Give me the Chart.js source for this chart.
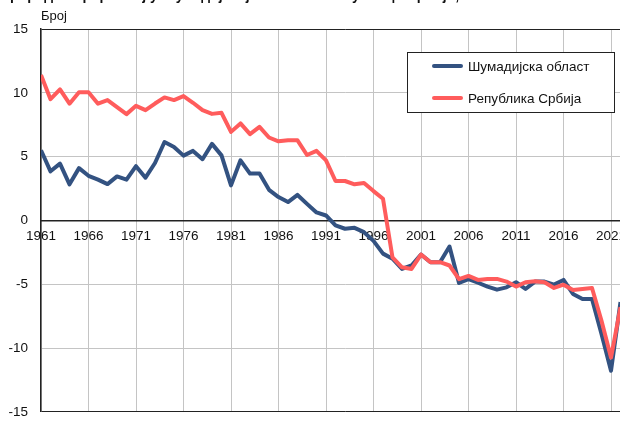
<!DOCTYPE html>
<html><head><meta charset="utf-8">
<script src="https://cdn.jsdelivr.net/npm/chart.js@4/dist/chart.umd.min.js"></script>
<style>
html,body{margin:0;padding:0;overflow:hidden;background:#fff;width:620px;height:428px}
#wrap{position:absolute;left:0;top:0;width:649px;height:433px}
</style></head><body>
<div id="wrap"><canvas id="c"></canvas></div>
<script>
const years = [];
for (let y = 1961; y <= 2022; y++) years.push(y);
const tickYears = [1961,1966,1971,1976,1981,1986,1991,1996,2001,2006,2011,2016,2021];
const yTicks = [-15,-10,-5,0,5,10,15];
const sumadija = [5.5,3.85,4.45,2.83,4.1,3.5,3.2,2.85,3.45,3.2,
 4.25,3.35,4.5,6.15,5.76,5.08,5.45,4.8,6.0,5.1,
 2.75,4.71,3.67,3.67,2.4,1.83,1.44,2.0,1.3,0.63,
 0.39,-0.39,-0.65,-0.58,-0.92,-1.6,-2.6,-3.0,-3.8,-3.53,
 -2.67,-3.27,-3.27,-2.04,-4.9,-4.6,-4.88,-5.18,-5.42,-5.24,
 -4.84,-5.37,-4.79,-4.79,-5.03,-4.66,-5.76,-6.15,-6.15,-8.9,
 -11.78,-6.4];
const srbija = [11.4,9.5,10.27,9.15,10.05,10.05,9.15,9.43,8.88,8.33,
 8.98,8.64,9.16,9.64,9.43,9.74,9.22,8.64,8.35,8.43,
 6.94,7.6,6.76,7.33,6.5,6.2,6.28,6.28,5.13,5.45,
 4.71,3.09,3.09,2.83,2.93,2.3,1.7,-2.9,-3.67,-3.8,
 -2.67,-3.27,-3.27,-3.53,-4.6,-4.35,-4.66,-4.58,-4.58,-4.79,
 -5.18,-4.84,-4.76,-4.84,-5.29,-5.03,-5.45,-5.37,-5.29,-7.86,
 -10.74,-6.8];
const seriesNames = ['Шумадијска област','Република Србија'];
const colors = ['#335281','#ff5c5c'];
const titleText = 'Природни прираштај у Шумадијској области и Републици Србији, 1961–2022.';
const unitText = 'Број';

const FONT = '"Liberation Sans", Arial, sans-serif';

const extras = {
  id: 'extras',
  afterDraw(chart) {
    const ctx = chart.ctx;
    ctx.save();
    ctx.fillStyle = '#111';
    ctx.font = 'bold 14px ' + FONT;
    ctx.textBaseline = 'alphabetic';
    ctx.textAlign = 'left';
    ctx.fillText(titleText, 0, 0);
    ctx.font = '13px ' + FONT;
    ctx.textBaseline = 'middle';
    ctx.fillText(unitText, 41, 16);
    // legend
    const bx = 407.5, by = 52.5, bw = 207, bh = 60;
    ctx.fillStyle = '#fff';
    ctx.fillRect(bx, by, bw, bh);
    ctx.strokeStyle = '#222';
    ctx.lineWidth = 1;
    ctx.strokeRect(bx, by, bw, bh);
    chart.data.datasets.forEach((ds, i) => {
      const ly = i === 0 ? 66 : 98;
      ctx.strokeStyle = ds.borderColor;
      ctx.lineWidth = 4;
      ctx.lineCap = 'round';
      ctx.beginPath();
      ctx.moveTo(434, ly);
      ctx.lineTo(461, ly);
      ctx.stroke();
      ctx.fillStyle = '#111';
      ctx.font = '13.5px ' + FONT;
      ctx.textBaseline = 'middle';
      ctx.fillText(ds.label, 468, ly + 1);
    });
    ctx.restore();
  }
};

new Chart(document.getElementById('c'), {
  type: 'line',
  data: {
    datasets: [
      { label: seriesNames[0], data: years.map((y,i)=>({x:y, y:sumadija[i]})), borderColor: colors[0], backgroundColor: colors[0], borderWidth: 4, pointRadius: 0, tension: 0, order: 1, borderJoinStyle: 'round' },
      { label: seriesNames[1], data: years.map((y,i)=>({x:y, y:srbija[i]})), borderColor: colors[1], backgroundColor: colors[1], borderWidth: 4, pointRadius: 0, tension: 0, order: 0, borderJoinStyle: 'round' }
    ]
  },
  options: {
    responsive: true,
    maintainAspectRatio: false,
    animation: false,
    events: [],
    layout: { padding: { top: 29, bottom: 16.3, left: 0, right: 0 } },
    plugins: { legend: { display: false }, tooltip: { enabled: false }, title: { display: false } },
    scales: {
      x: {
        type: 'linear',
        min: 1961, max: 2025,
        position: { y: 0 },
        afterBuildTicks: s => { s.ticks = tickYears.map(v => ({ value: v })); },
        afterFit: s => { s.height = 0; },
        ticks: { color: '#111', font: { family: FONT, size: 13.5 }, padding: 8, maxRotation: 0, autoSkip: false, callback: v => String(v) },
        grid: { color: '#c4c4c4', lineWidth: 1, drawTicks: false },
        border: { display: true, color: '#222', width: 1.5 }
      },
      y: {
        min: -15, max: 15,
        afterBuildTicks: s => { s.ticks = yTicks.map(v => ({ value: v })); },
        afterFit: s => { s.width = 41; },
        ticks: { color: '#111', font: { family: FONT, size: 13.5 }, padding: 13 },
        grid: { drawTicks: false, lineWidth: 1, color: c => (c.tick && (c.tick.value === 15 || c.tick.value === -15 || c.tick.value === 0)) ? '#222' : '#c4c4c4' },
        border: { display: true, color: '#222', width: 1.5 }
      }
    }
  },
  plugins: [extras]
});
</script>
</body></html>
